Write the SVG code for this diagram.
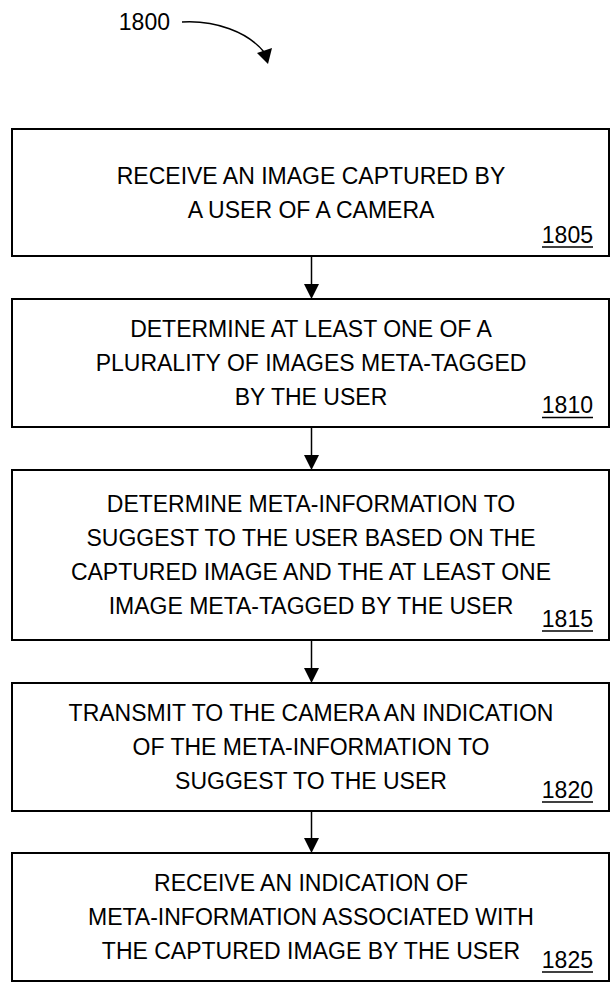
<svg xmlns="http://www.w3.org/2000/svg" width="612" height="984" viewBox="0 0 612 984">
<style>
  .box { fill: #fff; stroke: #000; stroke-width: 2; }
  .t { font-family: "Liberation Sans", Arial, sans-serif; font-size: 23px; fill: #000; text-anchor: middle; }
  .num { font-family: "Liberation Sans", Arial, sans-serif; font-size: 23px; fill: #000; text-anchor: end; }
  .ul { stroke: #000; stroke-width: 1.5; }
  .conn { stroke: #000; stroke-width: 1.5; fill: none; }
  .head { fill: #000; stroke: none; }
</style>
<rect width="612" height="984" fill="#fff"/>

<g id="label-1800">
  <text class="num" x="170" y="30">1800</text>
  <path class="conn" d="M182,22 C215,20 248,32 264,52"/>
  <polygon class="head" points="257,53 272,48 268,64"/>
</g>

<g id="node-1805">
  <rect class="box" x="12" y="129" width="597" height="127"/>
  <text class="t" x="311" y="183.6">RECEIVE AN IMAGE CAPTURED BY</text>
  <text class="t" x="311" y="217.6">A USER OF A CAMERA</text>
  <text class="num" x="593" y="242.5">1805</text>
  <line class="ul" x1="542" y1="247" x2="593" y2="247"/>
</g>

<g id="node-1810">
  <rect class="box" x="12" y="299" width="597" height="128"/>
  <text class="t" x="311" y="337">DETERMINE AT LEAST ONE OF A</text>
  <text class="t" x="311" y="371">PLURALITY OF IMAGES META-TAGGED</text>
  <text class="t" x="311" y="405">BY THE USER</text>
  <text class="num" x="593" y="413">1810</text>
  <line class="ul" x1="542" y1="417.5" x2="593" y2="417.5"/>
</g>

<g id="node-1815">
  <rect class="box" x="12" y="470" width="597" height="170"/>
  <text class="t" x="311" y="511.7">DETERMINE META-INFORMATION TO</text>
  <text class="t" x="311" y="545.7">SUGGEST TO THE USER BASED ON THE</text>
  <text class="t" x="311" y="579.7">CAPTURED IMAGE AND THE AT LEAST ONE</text>
  <text class="t" x="311" y="613.5">IMAGE META-TAGGED BY THE USER</text>
  <text class="num" x="593" y="626.5">1815</text>
  <line class="ul" x1="542" y1="631" x2="593" y2="631"/>
</g>

<g id="node-1820">
  <rect class="box" x="12" y="683" width="597" height="128"/>
  <text class="t" x="311" y="721.3">TRANSMIT TO THE CAMERA AN INDICATION</text>
  <text class="t" x="311" y="755.3">OF THE META-INFORMATION TO</text>
  <text class="t" x="311" y="789.3">SUGGEST TO THE USER</text>
  <text class="num" x="593" y="797.5">1820</text>
  <line class="ul" x1="542" y1="802" x2="593" y2="802"/>
</g>

<g id="node-1825">
  <rect class="box" x="12" y="853" width="597" height="128"/>
  <text class="t" x="311" y="891.3">RECEIVE AN INDICATION OF</text>
  <text class="t" x="311" y="925.3">META-INFORMATION ASSOCIATED WITH</text>
  <text class="t" x="311" y="959.3">THE CAPTURED IMAGE BY THE USER</text>
  <text class="num" x="593" y="967.5">1825</text>
  <line class="ul" x1="542" y1="972" x2="593" y2="972"/>
</g>

<g id="connectors">
  <line class="conn" x1="311.5" y1="256" x2="311.5" y2="286"/>
  <polygon class="head" points="304,284 319,284 311.5,299"/>
  <line class="conn" x1="311.5" y1="427" x2="311.5" y2="457"/>
  <polygon class="head" points="304,455 319,455 311.5,470"/>
  <line class="conn" x1="311.5" y1="640" x2="311.5" y2="670"/>
  <polygon class="head" points="304,668 319,668 311.5,683"/>
  <line class="conn" x1="311.5" y1="811" x2="311.5" y2="840"/>
  <polygon class="head" points="304,838 319,838 311.5,853"/>
</g>
</svg>
